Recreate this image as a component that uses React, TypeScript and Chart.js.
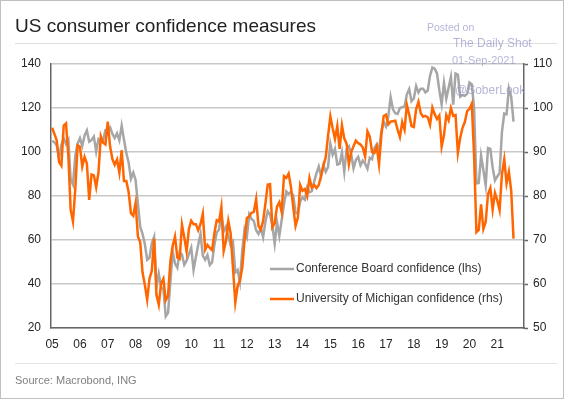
import React, { useEffect, useRef } from "react";
import { Chart, registerables } from "chart.js";

Chart.register(...registerables);

const START_YEAR = 2005;
const yearTicks = [2005, 2006, 2007, 2008, 2009, 2010, 2011, 2012, 2013, 2014, 2015, 2016, 2017, 2018, 2019, 2020, 2021];
const leftTicks = [20, 40, 60, 80, 100, 120, 140];
const rightTicks = [50, 60, 70, 80, 90, 100, 110];

// Conference Board consumer confidence, monthly from Jan 2005 (lhs)
const conferenceBoard = [
  105.1, 104.4, 103.0, 97.5, 103.1, 106.2, 103.6, 105.5, 87.5, 85.2, 98.3, 103.8,
  106.3, 102.7, 107.5, 109.8, 104.7, 105.4, 107.0, 100.2, 105.9, 105.1, 105.3, 110.0,
  110.2, 111.2, 108.2, 106.3, 108.5, 105.3, 111.9, 105.6, 99.5, 95.2, 87.8, 90.6,
  87.3, 76.4, 65.9, 62.8, 58.1, 51.0, 51.9, 58.5, 61.4, 38.8, 44.7, 38.6,
  37.4, 25.3, 26.9, 40.8, 54.8, 49.3, 47.4, 54.5, 53.4, 48.7, 50.6, 53.6,
  56.5, 46.4, 52.3, 57.7, 62.7, 52.9, 51.0, 53.2, 48.6, 49.9, 57.8, 63.4,
  64.8, 72.0, 63.8, 66.0, 61.7, 57.6, 59.2, 45.2, 46.4, 40.9, 55.2, 64.8,
  61.5, 71.6, 69.5, 68.7, 64.4, 62.7, 65.4, 61.3, 68.4, 73.1, 71.5, 66.7,
  58.4, 68.0, 61.9, 69.0, 76.2, 82.1, 81.0, 81.8, 80.2, 72.4, 72.0, 77.5,
  79.4, 78.3, 83.9, 81.7, 82.2, 86.4, 90.3, 93.4, 89.0, 94.1, 91.0, 93.1,
  103.8, 98.8, 101.4, 94.3, 94.6, 99.8, 91.0, 101.3, 102.6, 99.1, 92.6, 96.3,
  97.8, 94.0, 96.1, 94.7, 92.4, 97.4, 96.7, 101.8, 103.5, 100.8, 109.4, 113.7,
  111.6, 116.1, 124.9, 119.4, 117.6, 117.3, 120.0, 120.4, 120.6, 126.2, 128.6, 123.1,
  124.3, 130.0, 127.0, 128.8, 128.8, 127.1, 127.9, 134.7, 138.4, 137.9, 135.7, 128.1,
  121.7, 131.4, 124.2, 129.2, 134.1, 121.5, 135.7, 135.1, 125.1, 125.9, 125.5, 126.5,
  131.6, 130.7, 120.0, 85.7, 85.9, 98.3, 91.7, 84.8, 101.8, 101.4, 92.9, 87.1,
  88.9, 90.4, 109.0, 117.5, 117.2, 128.9, 125.1, 113.8,
];

// University of Michigan consumer sentiment, monthly from Jan 2005 (rhs)
const michigan = [
  95.5, 94.1, 92.6, 87.7, 86.9, 96.0, 96.5, 89.1, 76.9, 74.2, 81.6, 91.5,
  91.2, 86.7, 88.9, 87.4, 79.1, 84.9, 84.7, 82.0, 85.4, 93.6, 92.1, 91.7,
  96.9, 91.3, 88.4, 87.1, 88.3, 85.3, 90.4, 83.4, 83.4, 80.9, 76.1, 75.5,
  78.4, 70.8, 69.5, 62.6, 59.8, 56.4, 61.2, 63.0, 70.3, 57.6, 55.3, 60.1,
  61.2, 56.3, 57.3, 65.1, 68.7, 70.8, 66.0, 65.7, 73.5, 70.6, 67.4, 72.5,
  74.4, 73.6, 73.6, 72.2, 73.6, 76.0, 67.8, 68.9, 68.2, 67.7, 71.6, 74.5,
  74.2, 77.5, 67.5, 69.8, 74.3, 71.5, 63.7, 55.8, 59.5, 60.8, 63.7, 69.9,
  75.0, 75.3, 76.2, 76.4, 79.3, 73.2, 72.3, 74.3, 78.3, 82.6, 82.7, 72.9,
  73.8, 77.6, 78.6, 76.4, 84.5, 84.1, 85.1, 82.1, 77.5, 73.2, 75.1, 82.5,
  81.2, 81.6, 80.0, 84.1, 81.9, 82.5, 81.8, 82.5, 84.6, 86.9, 88.8, 93.6,
  98.1, 95.4, 93.0, 95.9, 90.7, 96.1, 93.1, 91.9, 87.2, 90.0, 91.3, 92.6,
  92.0, 91.7, 91.0, 89.0, 94.7, 93.5, 90.0, 89.8, 91.2, 87.2, 93.8, 98.2,
  98.5, 96.3, 96.9, 97.0, 97.1, 95.1, 93.4, 96.8, 95.1, 100.7, 98.5, 95.9,
  95.7, 99.7, 101.4, 98.8, 98.0, 98.2, 97.9, 96.2, 100.1, 98.6, 97.5, 98.3,
  91.2, 93.8, 98.4, 97.2, 100.0, 98.2, 98.4, 89.8, 93.2, 95.5, 96.8, 99.3,
  99.8, 101.0, 89.1, 71.8, 72.3, 78.1, 72.5, 74.1, 80.4, 81.8, 76.9, 80.7,
  79.0, 76.8, 84.9, 88.3, 82.9, 85.5, 81.2, 70.3,
];

const seriesNames = ["Conference Board confidence (lhs)", "University of Michigan confidence (rhs)"];
const GRAY = "#a6a6a6";
const ORANGE = "#ff6600";
const FONT = '"Liberation Sans", Arial, Helvetica, sans-serif';

const toPoints = (arr: number[]) =>
  arr.map((v, i) => ({ x: START_YEAR + i / 12, y: v }));

const legendPlugin = {
  id: "insideLegend",
  afterDatasetsDraw(chart: any) {
    const { ctx, chartArea } = chart;
    const colors = [GRAY, ORANGE];
    ctx.save();
    seriesNames.forEach((name, i) => {
      const y = chartArea.top + 205 + i * 30;
      ctx.beginPath();
      ctx.strokeStyle = colors[i];
      ctx.lineWidth = 2.5;
      ctx.moveTo(chartArea.left + 219, y);
      ctx.lineTo(chartArea.left + 243, y);
      ctx.stroke();
      ctx.fillStyle = "#333333";
      ctx.font = `12px ${FONT}`;
      ctx.textBaseline = "middle";
      ctx.textAlign = "left";
      ctx.fillText(name, chartArea.left + 245, y);
    });
    ctx.restore();
  },
};

export default function App() {
  const ref = useRef<HTMLCanvasElement>(null);

  useEffect(() => {
    document.body.style.margin = "0";
    const canvas = ref.current;
    if (!canvas) return;
    const chart = new Chart(canvas, {
      type: "line",
      data: {
        datasets: [
          {
            label: seriesNames[0],
            data: toPoints(conferenceBoard),
            borderColor: GRAY,
            borderWidth: 2.5,
            pointRadius: 0,
            tension: 0,
            yAxisID: "yL",
            order: 2,
          },
          {
            label: seriesNames[1],
            data: toPoints(michigan),
            borderColor: ORANGE,
            borderWidth: 2.5,
            pointRadius: 0,
            tension: 0,
            yAxisID: "yR",
            order: 1,
          },
        ],
      },
      options: {
        animation: false,
        responsive: false,
        events: [],
        layout: { padding: { top: 64, left: 0, right: 0, bottom: 51 } },
        plugins: { legend: { display: false }, tooltip: { enabled: false } },
        scales: {
          x: {
            type: "linear",
            min: 2004.96,
            max: 2021.96,
            afterBuildTicks: (s: any) => {
              s.ticks = yearTicks.map((v) => ({ value: v }));
            },
            afterFit: (s: any) => {
              s.height = 20;
            },
            grid: { display: false, drawTicks: false },
            border: { display: true, color: "#666666", width: 1.5 },
            ticks: {
              padding: 9,
              color: "#262626",
              font: { family: FONT, size: 12 },
              maxRotation: 0,
              autoSkip: false,
              callback: (v: any) => String(Math.round(v) % 100).padStart(2, "0"),
            },
          },
          yL: {
            type: "linear",
            position: "left",
            min: 20,
            max: 140,
            afterBuildTicks: (s: any) => {
              s.ticks = leftTicks.map((v) => ({ value: v }));
            },
            afterFit: (s: any) => {
              s.width = 51;
            },
            grid: { color: "#c8c8c8", lineWidth: 1.5, drawTicks: false },
            border: { display: true, color: "#666666", width: 1.5 },
            ticks: { padding: 10, color: "#262626", font: { family: FONT, size: 12 } },
          },
          yR: {
            type: "linear",
            position: "right",
            min: 50,
            max: 110,
            afterBuildTicks: (s: any) => {
              s.ticks = rightTicks.map((v) => ({ value: v }));
            },
            afterFit: (s: any) => {
              s.width = 40;
            },
            grid: {
              drawOnChartArea: false,
              drawTicks: true,
              tickLength: 4,
              tickColor: "#666666",
              tickWidth: 1.5,
            },
            border: { display: true, color: "#666666", width: 1.5 },
            ticks: { padding: 5, color: "#262626", font: { family: FONT, size: 12 } },
          },
        },
      },
      plugins: [legendPlugin],
    } as any);
    return () => chart.destroy();
  }, []);

  const abs = (extra: React.CSSProperties): React.CSSProperties => ({
    position: "absolute",
    whiteSpace: "nowrap",
    fontFamily: FONT,
    ...extra,
  });
  const wm = "rgba(150,150,200,0.7)";

  return (
    <div
      style={{
        position: "relative",
        width: 564,
        height: 399,
        overflow: "hidden",
        background: "#ffffff",
        fontFamily: FONT,
      }}
    >
      <canvas
        ref={ref}
        width={564}
        height={399}
        style={{ position: "absolute", left: 0, top: 0, width: 564, height: 399 }}
      />
      <div style={abs({ left: 15, top: 16, fontSize: 19, lineHeight: "20px", color: "#222222" })}>
        US consumer confidence measures
      </div>
      <div style={abs({ left: 15, top: 43, width: 542, height: 1, background: "#dedede" })} />
      <div style={abs({ left: 427, top: 21, fontSize: 10.5, lineHeight: "12px", color: wm })}>Posted on</div>
      <div style={abs({ left: 453, top: 36, fontSize: 12, lineHeight: "14px", color: wm })}>The Daily Shot</div>
      <div style={abs({ left: 452, top: 53, fontSize: 11, lineHeight: "14px", color: wm })}>01-Sep-2021</div>
      <div style={abs({ left: 455, top: 83, fontSize: 12, lineHeight: "14px", color: wm })}>@SoberLook</div>
      <div style={abs({ left: 15, top: 363, width: 542, height: 1, background: "#e3e3e3" })} />
      <div style={abs({ left: 15, top: 374, fontSize: 11, lineHeight: "12px", color: "#7f7f7f" })}>
        Source: Macrobond, ING
      </div>
      <div
        style={{
          position: "absolute",
          left: 0,
          top: 0,
          width: 564,
          height: 399,
          boxSizing: "border-box",
          border: "1px solid #c0c0c0",
          pointerEvents: "none",
        }}
      />
    </div>
  );
}
